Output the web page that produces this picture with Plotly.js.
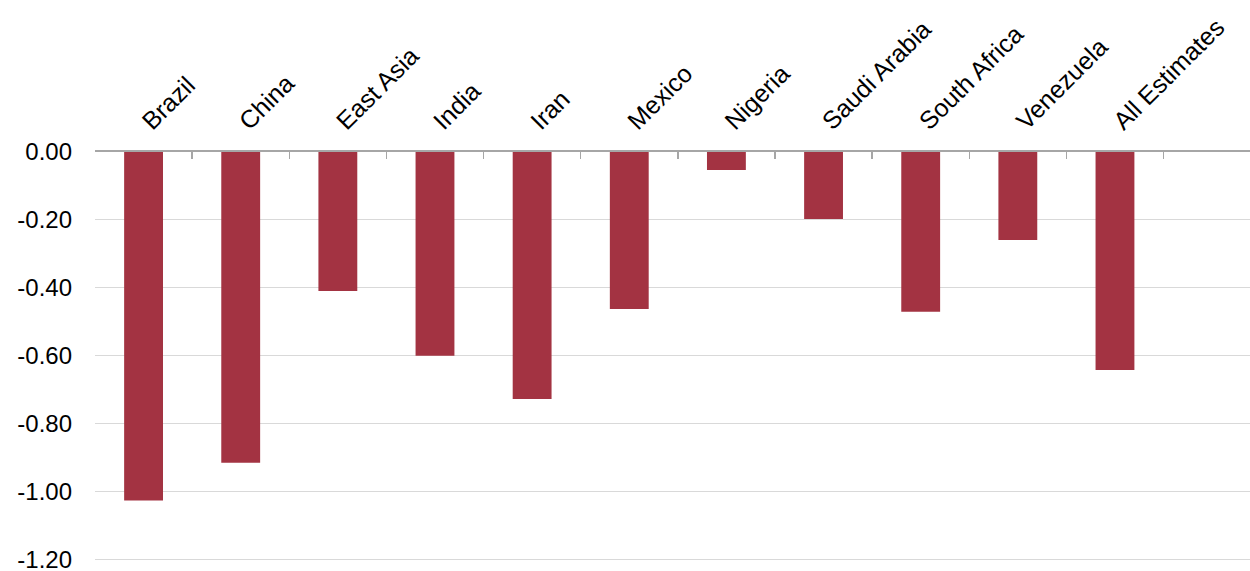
<!DOCTYPE html>
<html>
<head>
<meta charset="utf-8">
<script src="https://cdn.plot.ly/plotly-3.0.1.min.js"></script>
<style>html,body{margin:0;padding:0;background:#fff;}#chart{width:1250px;height:571px;}</style>
</head>
<body>
<div id="chart"></div>
<script>
var categories = ["Brazil","China","East Asia","India","Iran","Mexico","Nigeria","Saudi Arabia","South Africa","Venezuela","All Estimates"];
var values = [-1.026, -0.915, -0.409, -0.600, -0.727, -0.462, -0.053, -0.197, -0.470, -0.259, -0.642];
var yTickVals = [0, -0.2, -0.4, -0.6, -0.8, -1.0, -1.2];
var yTickText = ["0.00","-0.20","-0.40","-0.60","-0.80","-1.00","-1.20"];

var trace = {
  type: 'bar',
  x: categories,
  y: values,
  width: 0.4,
  marker: {color: '#a33342'},
  hoverinfo: 'x+y'
};

var layout = {
  width: 1250, height: 571,
  margin: {l: 95, r: 0, t: 152, b: 8, pad: 0},
  paper_bgcolor: '#fff', plot_bgcolor: '#fff',
  font: {family: '"Liberation Sans", Arial, sans-serif', size: 24, color: '#000'},
  showlegend: false,
  xaxis: {
    type: 'category',
    side: 'top',
    range: [-0.5, 11.39],
    tickangle: -45,
    ticks: 'inside', ticklen: 7, tickcolor: '#a6a6a6', tickwidth: 1.5,
    tickson: 'boundaries',
    showline: true, linecolor: '#a6a6a6', linewidth: 2,
    showgrid: false, zeroline: false,
    tickfont: {size: 25},
    ticklabelstandoff: 5,
    fixedrange: true
  },
  yaxis: {
    range: [-1.21, 0],
    tickmode: 'array', tickvals: yTickVals, ticktext: yTickText,
    showgrid: true, gridcolor: '#d9d9d9', gridwidth: 1,
    zeroline: false, showline: false, ticks: '',
    ticklabelstandoff: 22,
    ticklabeloverflow: 'allow',
    tickfont: {size: 24},
    fixedrange: true
  }
};

Plotly.newPlot('chart', [trace], layout, {displayModeBar: false, staticPlot: true});
</script>
</body>
</html>
